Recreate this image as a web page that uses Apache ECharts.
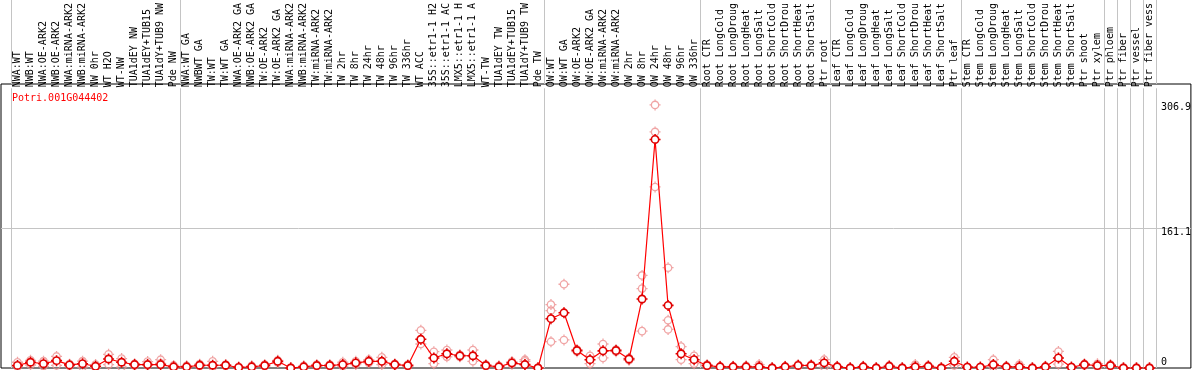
<!DOCTYPE html>
<html><head><meta charset="utf-8">
<script src="https://cdn.jsdelivr.net/npm/echarts@6/dist/echarts.min.js"></script>
<style>html,body{margin:0;padding:0;background:#fff}#c{width:1194px;height:370px}</style>
</head><body><div id="c"></div>
<script>
const geneId = 'Potri.001G044402';
const categories = [
 'NWA:WT','NWB:WT','NWA:OE-ARK2','NWB:OE-ARK2','NWA:miRNA-ARK2','NWB:miRNA-ARK2','NW 0hr','WT H2O','WT-NW','TUA1dEY NW','TUA1dEY+TUB15 NW','TUA1dY+TUB9 NW','Pde NW',
 'NWA:WT GA','NWBWT GA','TW:WT','TW:WT GA','NWA:OE-ARK2 GA','NWB:OE-ARK2 GA','TW:OE-ARK2','TW:OE-ARK2 GA','NWA:miRNA-ARK2 GA','NWB:miRNA-ARK2 GA','TW:miRNA-ARK2','TW:miRNA-ARK2 GA',
 'TW 2hr','TW 8hr','TW 24hr','TW 48hr','TW 96hr','TW 336hr','WT ACC','35S::etr1-1 H2O','35S::etr1-1 ACC','LMX5::etr1-1 H2O','LMX5::etr1-1 ACC','WT-TW','TUA1dEY TW','TUA1dEY+TUB15 TW','TUA1dY+TUB9 TW','Pde TW',
 'OW:WT','OW:WT GA','OW:OE-ARK2','OW:OE-ARK2 GA','OW:miRNA-ARK2','OW:miRNA-ARK2 GA','OW 2hr','OW 8hr','OW 24hr','OW 48hr','OW 96hr','OW 336hr',
 'Root CTR','Root LongCold','Root LongDrought','Root LongHeat','Root LongSalt','Root ShortCold','Root ShortDrought','Root ShortHeat','Root ShortSalt','Ptr root',
 'Leaf CTR','Leaf LongCold','Leaf LongDrought','Leaf LongHeat','Leaf LongSalt','Leaf ShortCold','Leaf ShortDrought','Leaf ShortHeat','Leaf ShortSalt','Ptr leaf',
 'Stem CTR','Stem LongCold','Stem LongDrought','Stem LongHeat','Stem LongSalt','Stem ShortCold','Stem ShortDrought','Stem ShortHeat','Stem ShortSalt','Ptr shoot','Ptr xylem',
 'Ptr phloem','Ptr fiber','Ptr vessel','Ptr fiber vessel'
];
const groupStarts = [0, 13, 41, 53, 63, 73, 84, 85, 86, 87];
const meanValues = [
 3,6.7,5,8.6,3.6,5,2,10.5,6.7,4,4,4,1.4,
 1.4,3.2,3.2,3.2,0.6,1.4,2.9,7.8,0,1.4,2.9,2.9,
 4,6,7.8,7.8,4,2.9,33.5,11.7,16.6,14.3,14.3,2.9,1.4,6,4,0,
 57.5,64.4,20.4,9.7,20,20.4,10.5,80.5,266.6,73,16.6,9.7,
 2.9,1.4,1.4,1.4,1.4,0,1.4,3,2.9,6,
 1.4,0,1.4,0,2,0,1.4,2,0,7.8,
 0.9,0.9,4,1.4,1.4,0,1.4,11.7,0.9,4,2.9,
 2.9,0,0,0
];
const rep1 = [
 6.7,9,8,13.5,4.5,8,4,16,11,5,7.5,9.7,3,
 2.5,4.5,7.8,4,1.5,2.5,4,9,0.5,2.5,4,4,
 6.7,7.8,9.7,12.4,5,4,44,19,21,15.5,21,4,2.5,7.5,9.7,0.5,
 74,97.7,21.5,14.3,28,21.5,11.5,108,306.9,117,25,14.3,
 4,2,2,2.5,4,0.5,2,4,4,9.7,
 2,0.5,2,0.5,3,0.5,4,3,0.5,12.4,
 1.5,1.5,9.7,2,4,0.5,2,19.3,1.5,5,5,
 4,0.5,0.5,0.5
];
const rep2 = [
 1.5,3.5,2,3,2.5,1,0.5,4,1,3,3,5.5,0,
 0.5,2,1,2.5,0,0.5,2,6.5,0,0.5,2,2,
 2,4,6,4,3,2,28,5,13,13,7.8,2,0.5,4.5,7.8,0,
 67,32.7,19,5,11.7,19,9,92.6,275.4,55.7,9.7,5,
 2,1,1,0.5,0.5,0,1,2,2,1,
 1,0,1,0,1,0,0.5,1,0,3,
 0.5,0.5,1,1,0.5,0,1,4.5,0.5,3,1.5,
 2,0,0,0
];
const rep3 = meanValues.map(() => null);
rep3[39] = 4; rep3[41] = 30.7; rep3[48] = 43; rep3[49] = 211.2; rep3[50] = 45;
const yTickLabels = [0, 161.1, 306.9];
const yMid = 161.1;
const yMax = 326.3;

const mono = 'DejaVu Sans Mono';
const gridColor = '#c4c4c4';
const isGroupStart = (i) => groupStarts.indexOf(i) >= 0;
const ringSymbol = 'path://M6,2A4,4,0,1,1,5.99,2ZM6,0L6,2M6,10L6,12M0,6L2,6M10,6L12,6';

const chart = echarts.init(document.getElementById('c'), null, {renderer: 'canvas'});
const repSeries = [rep1, rep2, rep3].map((d) => ({
  type: 'scatter', xAxisIndex: 1, yAxisIndex: 1, data: d,
  symbol: ringSymbol, symbolSize: 11,
  itemStyle: {color: 'rgba(255,255,255,0)', borderColor: '#ec8f8f', borderWidth: 1.3}, z: 2, silent: true
}));
chart.setOption({
  animation: false,
  backgroundColor: '#fff',
  title: {text: geneId, left: 7, top: 88, textStyle: {color: '#ff0000', fontFamily: mono, fontSize: 10, fontWeight: 'normal'}},
  grid: [
    {left: 1, right: 1, top: 84, bottom: 2, show: true, borderColor: '#000', borderWidth: 1, backgroundColor: 'transparent'},
    {left: 11, right: 38, top: 84, bottom: 2},
    {left: 11, right: 38, top: 0, height: 84}
  ],
  xAxis: [
    {gridIndex: 0, type: 'value', show: false, min: 0, max: 1},
    {gridIndex: 1, type: 'category', data: categories, position: 'top', boundaryGap: true,
     axisLine: {show: false}, axisTick: {show: false},
     axisLabel: {interval: 0, rotate: 90, margin: 1, fontFamily: mono, fontSize: 10, color: '#000', width: 86, overflow: 'truncate', ellipsis: '', padding: [4, 0, 0, 0]},
     splitLine: {show: true, interval: (i) => isGroupStart(i), lineStyle: {color: gridColor, width: 1}}},
    {gridIndex: 2, type: 'category', data: categories, position: 'bottom', boundaryGap: true,
     axisLine: {show: false}, axisTick: {show: false}, axisLabel: {show: false},
     splitLine: {show: true, interval: (i) => isGroupStart(i), lineStyle: {color: gridColor, width: 1}}}
  ],
  yAxis: [
    {gridIndex: 0, type: 'value', min: 0, max: yMax, interval: yMid, position: 'right',
     axisLine: {show: false}, axisTick: {show: false},
     splitLine: {show: true, lineStyle: {color: ['rgba(0,0,0,0)', gridColor, 'rgba(0,0,0,0)'], width: 1}},
     axisLabel: {show: true, inside: true, customValues: yTickLabels, align: 'left', margin: 30,
       fontFamily: mono, fontSize: 10, color: '#000',
       formatter: (v) => v === 0 ? '{lo|0}' : (v === yMid ? '{mid|' + v + '}' : '{hi|' + v + '}'),
       rich: {lo: {padding: [0, 0, 12, 0], fontFamily: mono, fontSize: 10},
              mid: {padding: [10, 0, 0, 0], fontFamily: mono, fontSize: 10},
              hi: {padding: [14, 0, 0, 0], fontFamily: mono, fontSize: 10}}}},
    {gridIndex: 1, type: 'value', min: 0, max: yMax, show: false},
    {gridIndex: 2, type: 'value', min: 0, max: 1, show: false}
  ],
  series: repSeries.concat([{
    type: 'line', xAxisIndex: 1, yAxisIndex: 1, data: meanValues,
    symbol: ringSymbol, symbolSize: 11, showAllSymbol: true,
    lineStyle: {color: '#ff0000', width: 1.2},
    itemStyle: {color: '#ffffff', borderColor: '#e00000', borderWidth: 1.6}, z: 3, silent: true
  }])
});
</script></body></html>
